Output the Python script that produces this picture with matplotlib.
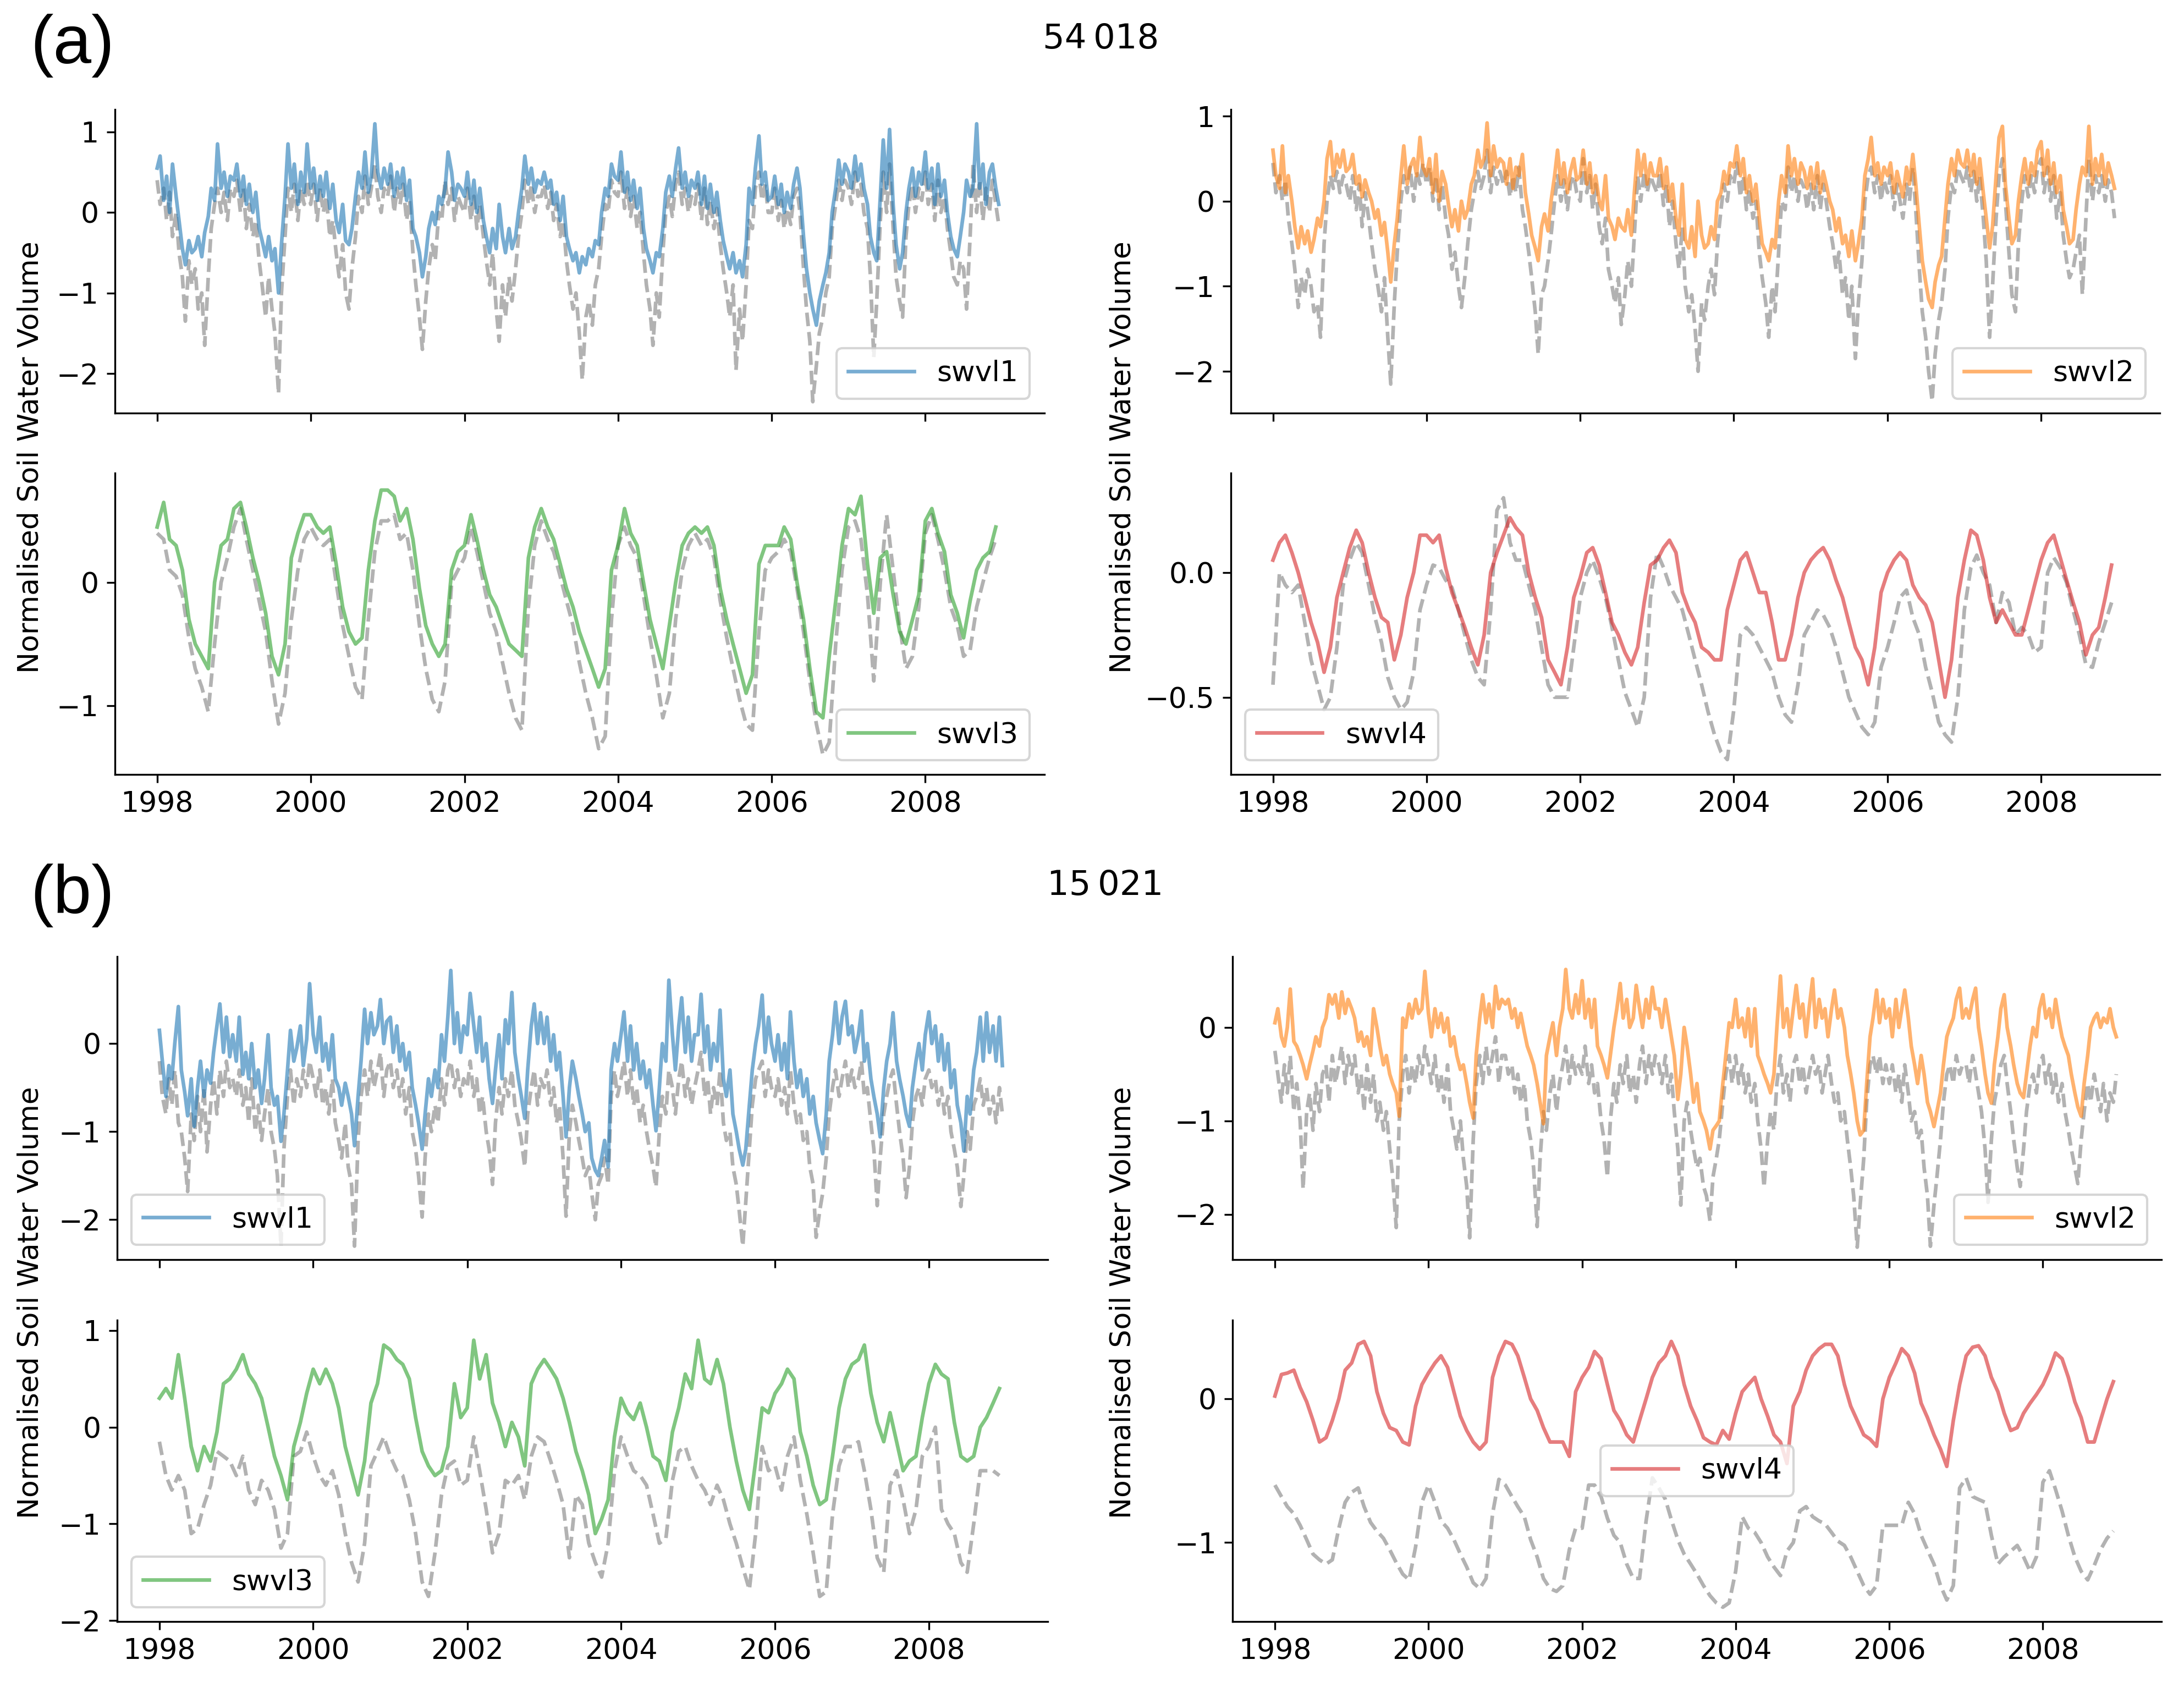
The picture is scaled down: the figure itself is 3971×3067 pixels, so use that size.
import numpy as np
import pandas as pd
import matplotlib
matplotlib.use('Agg')
import matplotlib.pyplot as plt
import matplotlib.dates as mdates
from matplotlib.ticker import MultipleLocator

plt.rcParams['font.family'] = ['DejaVu Sans']
plt.rcParams['font.size'] = 12.5

# ---- station 54018 : layer 1 and 2 (twice a month, 1998-2008) ----
a_swvl1 = [
    0.55, 0.7, 0.15, 0.45, 0.0, 0.6, 0.2, -0.1, -0.45, -0.65, -0.35, -0.5, -0.45, -0.3, -0.55, -0.25, -0.05, 0.3, 0.15, 0.85, 0.3, 0.5, 0.2, 0.45,
    0.4, 0.6, 0.2, 0.45, 0.1, 0.35, 0.0, 0.25, -0.2, -0.35, -0.55, -0.3, -0.6, -0.45, -1.0, -0.4, 0.2, 0.85, 0.3, 0.6, 0.1, 0.5, 0.25, 0.85,
    0.3, 0.55, 0.15, 0.45, 0.2, 0.5, 0.05, 0.35, -0.1, -0.25, 0.1, -0.35, -0.4, -0.2, 0.2, 0.5, 0.3, 0.75, 0.25, 0.45, 1.1, 0.5, 0.3, 0.55,
    0.35, 0.6, 0.2, 0.5, 0.3, 0.55, 0.15, 0.4, -0.2, -0.3, -0.5, -0.8, -0.55, -0.2, 0.0, -0.15, 0.2, 0.1, 0.3, 0.75, 0.5, 0.15, 0.35, 0.3,
    0.2, 0.5, 0.1, 0.4, 0.0, 0.3, -0.1, -0.3, -0.5, -0.2, -0.45, 0.1, -0.3, -0.5, -0.2, -0.45, -0.3, 0.0, 0.3, 0.7, 0.35, 0.55, 0.25, 0.4,
    0.35, 0.5, 0.3, 0.4, 0.1, 0.25, -0.1, 0.2, -0.3, -0.45, -0.6, -0.5, -0.75, -0.55, -0.65, -0.45, -0.55, -0.35, -0.4, 0.0, 0.3, 0.2, 0.6, 0.45,
    0.4, 0.75, 0.25, 0.5, 0.15, 0.4, 0.05, 0.3, -0.2, -0.45, -0.6, -0.75, -0.5, -0.55, -0.2, 0.25, 0.45, 0.2, 0.55, 0.8, 0.3, 0.5, 0.2, 0.4,
    0.3, 0.5, 0.1, 0.45, 0.05, 0.35, 0.0, 0.25, -0.1, -0.35, -0.55, -0.7, -0.5, -0.75, -0.6, -0.8, -0.4, 0.3, 0.1, 0.55, 0.95, 0.35, 0.5, 0.15,
    0.2, 0.45, 0.1, 0.35, 0.0, 0.25, 0.05, 0.35, 0.55, 0.3, -0.3, -0.7, -1.0, -1.2, -1.4, -1.1, -0.9, -0.75, -0.5, 0.0, 0.3, 0.65, 0.35, 0.6,
    0.5, 0.3, 0.7, 0.4, 0.6, 0.3, 0.1, -0.3, -0.5, -0.6, 0.2, 0.9, 0.3, 1.03, 0.1, -0.4, -0.7, -0.5, 0.0, 0.3, 0.55, 0.2, 0.5, 0.35,
    0.75, 0.3, 0.55, 0.1, 0.6, 0.2, 0.4, 0.0, -0.3, -0.45, -0.55, -0.3, 0.0, 0.4, 0.2, 0.3, 1.1, 0.3, 0.6, 0.1, 0.5, 0.6, 0.3, 0.1,
]
a_ref1 = [
    0.4, 0.1, 0.3, -0.1, 0.25, -0.3, 0.0, -0.5, -0.8, -1.35, -0.6, -0.9, -0.7, -1.2, -1.0, -1.65, -0.8, -0.2, 0.1, 0.3, 0.0, 0.25, -0.1, 0.3,
    0.2, 0.4, 0.0, 0.3, -0.2, 0.1, -0.3, -0.1, -0.6, -0.9, -1.3, -0.8, -1.2, -1.5, -2.25, -1.0, -0.3, 0.3, 0.0, 0.35, -0.1, 0.3, 0.1, 0.4,
    0.1, 0.35, -0.1, 0.3, 0.0, 0.2, -0.3, -0.1, -0.5, -0.8, -0.4, -1.0, -1.2, -0.7, -0.3, 0.2, 0.0, 0.45, 0.1, 0.3, 0.6, 0.2, 0.0, 0.3,
    0.2, 0.45, 0.0, 0.3, 0.1, 0.35, -0.1, 0.15, -0.5, -0.9, -1.3, -1.7, -1.1, -0.7, -0.4, -0.6, 0.0, -0.1, 0.4, 0.1, 0.3, -0.1, 0.2, 0.1,
    0.0, 0.3, -0.1, 0.2, -0.2, 0.1, -0.3, -0.6, -0.9, -0.5, -1.2, -1.6, -0.9, -1.3, -0.8, -1.1, -0.7, -0.3, 0.0, 0.4, 0.1, 0.35, 0.0, 0.2,
    0.2, 0.35, 0.05, 0.25, -0.1, 0.1, -0.3, -0.1, -0.6, -0.9, -1.2, -1.0, -1.5, -2.08, -1.3, -1.1, -1.4, -0.9, -0.7, -0.3, 0.1, 0.0, 0.4, 0.25,
    0.2, 0.5, 0.05, 0.3, -0.05, 0.2, -0.2, 0.0, -0.5, -0.9, -1.2, -1.65, -1.0, -1.3, -0.5, 0.0, 0.2, -0.05, 0.35, 0.5, 0.1, 0.3, 0.0, 0.2,
    0.1, 0.35, -0.1, 0.3, -0.15, 0.15, -0.2, 0.05, -0.4, -0.7, -1.0, -1.3, -0.9, -1.96, -1.2, -1.6, -0.9, -0.1, -0.2, 0.3, 0.5, 0.15, 0.35, 0.0,
    0.0, 0.3, -0.1, 0.15, -0.2, 0.05, -0.15, 0.2, 0.3, 0.0, -0.7, -1.2, -1.6, -2.35, -1.9, -1.5, -1.3, -1.0, -0.8, -0.2, 0.1, 0.4, 0.15, 0.4,
    0.3, 0.1, 0.5, 0.2, 0.35, 0.0, -0.2, -0.8, -1.8, -1.1, -0.1, 0.5, 0.0, 0.6, -0.2, -0.8, -1.1, -1.3, -0.3, 0.1, 0.35, 0.0, 0.3, 0.15,
    0.5, 0.1, 0.35, -0.1, 0.4, 0.0, 0.2, -0.2, -0.5, -0.8, -0.9, -0.6, -0.7, -1.2, -0.3, 0.6, 0.0, 0.4, -0.1, 0.3, 0.0, 0.4, 0.1, -0.15,
]
a_swvl2 = [
    0.6, 0.3, 0.15, 0.65, 0.1, 0.3, 0.0, -0.3, -0.55, -0.3, -0.5, -0.35, -0.6, -0.45, -0.2, -0.3, 0.0, 0.5, 0.7, 0.3, 0.55, 0.4, 0.6, 0.35,
    0.4, 0.55, 0.2, 0.3, 0.05, 0.25, 0.1, 0.0, -0.2, -0.1, -0.4, -0.25, -0.6, -0.95, -0.5, -0.2, 0.3, 0.65, 0.2, 0.4, 0.5, 0.3, 0.75, 0.4,
    0.3, 0.5, 0.1, 0.55, 0.0, 0.35, 0.2, -0.05, -0.3, -0.1, -0.35, 0.0, -0.2, -0.1, 0.2, 0.3, 0.6, 0.4, 0.5, 0.92, 0.3, 0.65, 0.4, 0.5,
    0.45, 0.2, 0.5, 0.15, 0.4, 0.3, 0.55, 0.1, -0.15, -0.4, -0.55, -0.7, -0.3, -0.15, -0.35, 0.0, 0.3, 0.6, 0.2, 0.45, 0.1, 0.35, 0.5, 0.25,
    0.3, 0.6, 0.2, 0.45, 0.1, 0.3, 0.0, -0.1, 0.3, -0.2, -0.3, -0.45, -0.2, -0.3, -0.35, -0.1, -0.4, 0.1, 0.6, 0.3, 0.55, 0.2, 0.45, 0.3,
    0.3, 0.5, 0.15, 0.4, 0.0, 0.2, -0.2, -0.4, 0.2, -0.45, -0.55, -0.3, -0.65, 0.0, -0.4, -0.55, -0.5, -0.3, -0.45, 0.0, 0.1, 0.35, 0.2, 0.45,
    0.4, 0.65, 0.3, 0.5, 0.1, 0.3, 0.0, 0.2, -0.2, -0.5, -0.6, -0.7, -0.45, -0.55, 0.0, 0.3, 0.1, 0.65, 0.3, 0.5, 0.2, 0.45, 0.35, 0.15,
    0.4, 0.15, 0.45, 0.1, 0.35, 0.2, 0.0, -0.1, -0.35, -0.2, -0.5, -0.4, -0.65, -0.35, -0.7, -0.5, -0.2, 0.3, 0.5, 0.75, 0.3, 0.45, 0.2, 0.4,
    0.3, 0.45, 0.1, 0.35, 0.2, 0.05, 0.4, 0.2, 0.55, 0.2, -0.3, -0.7, -0.95, -1.15, -1.25, -0.95, -0.75, -0.65, -0.2, 0.2, 0.5, 0.3, 0.6, 0.45,
    0.4, 0.6, 0.3, 0.55, 0.2, 0.5, 0.1, -0.2, -0.55, -0.3, 0.3, 0.75, 0.88, 0.2, -0.2, -0.5, -0.4, 0.0, 0.3, 0.5, 0.2, 0.45, 0.3, 0.6,
    0.7, 0.3, 0.6, 0.2, 0.45, 0.1, 0.3, -0.1, -0.3, -0.5, -0.45, -0.1, 0.2, 0.4, 0.3, 0.88, 0.2, 0.5, 0.3, 0.55, 0.2, 0.45, 0.3, 0.15,
]
a_ref2 = [
    0.45, 0.1, 0.3, 0.0, 0.25, -0.2, -0.5, -0.8, -1.25, -0.9, -1.1, -0.8, -1.0, -1.3, -1.2, -1.6, -0.5, 0.0, 0.3, 0.15, 0.35, 0.1, 0.3, 0.2,
    0.0, 0.3, -0.1, 0.2, -0.3, 0.1, -0.2, -0.5, -0.8, -1.0, -1.3, -0.9, -1.6, -2.15, -1.2, -0.6, 0.0, 0.3, 0.1, 0.4, 0.0, 0.35, 0.2, 0.45,
    0.2, 0.4, 0.0, 0.3, -0.1, 0.2, -0.2, -0.4, -0.8, -0.6, -1.0, -1.25, -0.9, -0.5, -0.1, 0.1, 0.35, 0.15, 0.3, 0.6, 0.1, 0.4, 0.2, 0.35,
    0.2, 0.35, 0.05, 0.3, 0.1, 0.4, -0.1, -0.3, -0.6, -0.9, -1.3, -1.8, -1.1, -1.0, -0.7, -0.4, 0.0, 0.3, 0.0, 0.25, -0.1, 0.2, 0.3, 0.1,
    0.0, 0.5, 0.1, 0.3, -0.1, 0.2, -0.3, -0.5, -0.2, -0.8, -1.0, -1.2, -0.9, -1.45, -1.1, -0.7, -1.0, -0.4, 0.3, 0.0, 0.35, 0.1, 0.3, 0.2,
    0.1, 0.35, -0.05, 0.2, -0.3, 0.0, -0.5, -0.8, -0.3, -1.0, -1.3, -1.1, -1.5, -2.0, -1.2, -1.4, -1.0, -0.8, -1.1, -0.5, -0.1, 0.2, 0.0, 0.3,
    0.2, 0.45, 0.05, 0.3, -0.1, 0.15, -0.2, 0.0, -0.6, -0.9, -1.2, -1.6, -1.0, -1.3, -0.6, 0.0, -0.1, 0.4, 0.1, 0.3, 0.0, 0.25, 0.15, -0.1,
    0.2, -0.1, 0.3, -0.1, 0.2, 0.0, -0.3, -0.5, -0.8, -0.6, -1.1, -0.9, -1.4, -1.0, -1.85, -1.2, -0.7, 0.0, 0.3, 0.4, 0.1, 0.3, 0.0, 0.25,
    0.1, 0.3, -0.1, 0.2, 0.0, -0.2, 0.2, 0.0, 0.4, -0.1, -0.8, -1.3, -1.6, -2.0, -2.35, -1.8, -1.4, -1.2, -0.8, -0.2, 0.2, 0.1, 0.4, 0.3,
    0.2, 0.4, 0.1, 0.35, 0.0, 0.3, -0.2, -0.7, -1.6, -1.0, -0.2, 0.3, 0.5, 0.0, -0.6, -1.1, -1.3, -0.5, 0.0, 0.3, 0.05, 0.3, 0.1, 0.4,
    0.5, 0.1, 0.4, 0.0, 0.3, -0.2, 0.1, -0.4, -0.7, -0.9, -0.8, -0.6, -0.4, -1.1, -0.2, 0.5, 0.0, 0.3, 0.1, 0.3, 0.0, 0.25, 0.1, -0.2,
]

# ---- station 54018 : layer 3 and 4 (monthly) ----
a_swvl3 = [
    0.45, 0.65, 0.35, 0.3, 0.1, -0.3, -0.5, -0.6, -0.7, 0.0, 0.3, 0.35,
    0.6, 0.65, 0.45, 0.2, 0.0, -0.25, -0.6, -0.75, -0.5, 0.2, 0.4, 0.55,
    0.55, 0.45, 0.4, 0.45, 0.15, -0.2, -0.4, -0.5, -0.45, 0.1, 0.5, 0.75,
    0.75, 0.7, 0.5, 0.6, 0.35, -0.05, -0.35, -0.5, -0.6, -0.5, 0.1, 0.25,
    0.3, 0.55, 0.35, 0.1, -0.1, -0.2, -0.35, -0.5, -0.55, -0.6, 0.2, 0.45,
    0.6, 0.45, 0.35, 0.15, -0.05, -0.2, -0.4, -0.55, -0.7, -0.85, -0.7, 0.1,
    0.3, 0.6, 0.4, 0.3, 0.0, -0.3, -0.5, -0.7, -0.35, 0.0, 0.3, 0.4,
    0.45, 0.4, 0.45, 0.3, -0.05, -0.3, -0.5, -0.7, -0.9, -0.75, 0.15, 0.3,
    0.3, 0.3, 0.45, 0.35, 0.0, -0.3, -0.7, -1.05, -1.1, -0.6, -0.15, 0.3,
    0.6, 0.55, 0.7, 0.15, -0.25, 0.2, 0.25, -0.1, -0.4, -0.5, -0.3, -0.1,
    0.5, 0.6, 0.4, 0.25, -0.1, -0.25, -0.45, -0.15, 0.1, 0.2, 0.25, 0.45,
]
a_ref3 = [
    0.4, 0.35, 0.1, 0.05, -0.1, -0.45, -0.7, -0.85, -1.05, -0.5, 0.0, 0.2,
    0.45, 0.6, 0.35, 0.1, -0.15, -0.4, -0.8, -1.15, -0.9, -0.3, 0.1, 0.35,
    0.45, 0.35, 0.3, 0.35, 0.0, -0.35, -0.6, -0.85, -0.95, -0.3, 0.25, 0.5,
    0.5, 0.55, 0.35, 0.4, 0.1, -0.35, -0.7, -0.95, -1.05, -0.8, 0.0, 0.1,
    0.2, 0.45, 0.25, 0.0, -0.25, -0.4, -0.65, -0.9, -1.1, -1.2, -0.2, 0.3,
    0.5, 0.35, 0.25, 0.05, -0.15, -0.35, -0.65, -0.9, -1.1, -1.35, -1.25, -0.3,
    0.3, 0.45, 0.3, 0.2, -0.1, -0.45, -0.75, -1.1, -0.9, -0.3, 0.1, 0.3,
    0.4, 0.3, 0.35, 0.2, -0.15, -0.45, -0.7, -0.95, -1.15, -1.2, -0.4, 0.1,
    0.2, 0.25, 0.35, 0.25, -0.05, -0.4, -0.8, -1.15, -1.4, -1.3, -0.5, 0.1,
    0.45, 0.5, 0.35, -0.1, -0.8, 0.0, 0.55, 0.1, -0.35, -0.7, -0.6, -0.2,
    0.4, 0.55, 0.35, 0.1, -0.2, -0.35, -0.6, -0.55, -0.2, 0.0, 0.2, 0.35,
]
a_swvl4 = [
    0.05, 0.12, 0.15, 0.08, 0.0, -0.1, -0.2, -0.28, -0.4, -0.3, -0.1, 0.0,
    0.1, 0.17, 0.12, 0.0, -0.1, -0.18, -0.2, -0.35, -0.25, -0.1, 0.0, 0.15,
    0.15, 0.12, 0.15, 0.02, -0.08, -0.15, -0.22, -0.3, -0.37, -0.25, 0.0, 0.08,
    0.15, 0.22, 0.18, 0.15, 0.0, -0.1, -0.18, -0.35, -0.4, -0.45, -0.3, -0.1,
    -0.02, 0.08, 0.1, 0.03, -0.08, -0.2, -0.25, -0.32, -0.37, -0.3, -0.12, 0.03,
    0.05, 0.1, 0.13, 0.08, -0.08, -0.15, -0.2, -0.3, -0.32, -0.35, -0.35, -0.15,
    -0.05, 0.05, 0.08, 0.0, -0.08, -0.08, -0.2, -0.35, -0.35, -0.25, -0.1, 0.0,
    0.05, 0.08, 0.1, 0.05, -0.03, -0.1, -0.2, -0.3, -0.35, -0.45, -0.3, -0.08,
    0.0, 0.05, 0.08, 0.05, -0.05, -0.1, -0.13, -0.2, -0.35, -0.5, -0.35, -0.1,
    0.05, 0.17, 0.15, 0.05, -0.1, -0.2, -0.15, -0.2, -0.25, -0.25, -0.15, -0.05,
    0.05, 0.12, 0.15, 0.06, -0.03, -0.12, -0.2, -0.33, -0.25, -0.22, -0.1, 0.03,
]
a_ref4 = [
    -0.45, 0.0, -0.05, -0.08, -0.05, -0.2, -0.35, -0.45, -0.55, -0.5, -0.3, -0.05,
    0.05, 0.12, 0.08, -0.05, -0.18, -0.28, -0.42, -0.5, -0.55, -0.52, -0.4, -0.15,
    -0.05, 0.03, 0.02, -0.03, -0.06, -0.15, -0.25, -0.35, -0.42, -0.45, -0.15, 0.25,
    0.3, 0.12, 0.05, 0.05, -0.05, -0.15, -0.3, -0.45, -0.5, -0.5, -0.5, -0.3,
    -0.1, 0.0, 0.05, -0.02, -0.1, -0.22, -0.35, -0.48, -0.55, -0.62, -0.5, -0.1,
    0.08, 0.02, -0.05, -0.1, -0.15, -0.25, -0.35, -0.45, -0.56, -0.65, -0.72, -0.75,
    -0.55, -0.25, -0.22, -0.25, -0.3, -0.35, -0.4, -0.5, -0.57, -0.6, -0.45, -0.25,
    -0.2, -0.15, -0.17, -0.22, -0.3, -0.4, -0.5, -0.56, -0.62, -0.65, -0.6, -0.38,
    -0.3, -0.2, -0.1, -0.07, -0.18, -0.25, -0.38, -0.48, -0.6, -0.65, -0.68, -0.5,
    -0.15, 0.02, 0.07, 0.0, -0.05, -0.2, -0.08, -0.12, -0.25, -0.22, -0.25, -0.32,
    -0.3, 0.0, 0.06, 0.02, -0.04, -0.15, -0.25, -0.37, -0.38, -0.28, -0.2, -0.12,
]

# ---- station 15021 : layer 1 and 2 (twice a month) ----
b_swvl1 = [
    0.15, -0.2, -0.6, -0.25, -0.4, 0.0, 0.42, -0.3, -0.55, -0.82, -0.4, -0.94, -0.5, -0.2, -0.6, -0.3, -0.45, -0.1, 0.2, 0.45, -0.1, 0.3, -0.15, 0.1,
    -0.2, 0.3, -0.35, -0.1, -0.4, 0.0, -0.5, -0.3, -0.68, -0.4, 0.1, -0.5, -0.7, -0.6, -1.11, -0.8, -0.3, 0.15, -0.2, -0.05, 0.2, -0.25, 0.05, 0.68,
    0.1, -0.1, 0.3, -0.2, 0.0, -0.3, 0.1, -0.4, -0.5, -0.7, -0.45, -0.6, -0.8, -1.16, -0.6, -0.2, 0.39, 0.0, 0.35, 0.1, 0.2, 0.5, 0.0, 0.25,
    0.3, -0.1, 0.2, -0.2, 0.0, -0.3, -0.1, -0.5, -0.7, -0.9, -1.2, -0.8, -0.4, -0.6, -0.3, -0.5, 0.1, -0.2, 0.3, 0.83, 0.0, 0.35, -0.1, 0.2,
    0.1, 0.57, 0.2, -0.1, 0.3, -0.2, 0.0, -0.4, -0.68, -0.3, 0.1, -0.4, 0.27, 0.0, 0.58, -0.1, -0.4, -0.6, -0.85, -0.3, 0.2, 0.45, 0.0, 0.35,
    0.0, 0.3, -0.2, 0.1, -0.3, -0.1, -0.6, -1.06, -0.5, -0.2, -0.4, -0.6, -0.8, -1.0, -0.9, -1.3, -1.44, -1.5, -1.3, -1.1, -1.4, -0.3, 0.0, -0.2,
    0.1, 0.36, -0.2, 0.2, -0.3, 0.0, -0.4, -0.2, -0.5, -0.3, -0.7, -0.99, -0.5, 0.0, -0.2, 0.72, 0.1, -0.3, 0.2, 0.52, -0.1, 0.3, -0.2, 0.1,
    0.1, 0.56, -0.1, 0.2, -0.3, 0.0, -0.2, 0.38, -0.4, -0.6, -0.3, -0.8, -1.0, -1.2, -1.38, -1.2, -0.7, -0.3, 0.0, 0.2, 0.55, -0.1, 0.3, 0.0,
    -0.2, 0.1, -0.3, 0.0, -0.4, 0.36, -0.2, -0.5, -0.3, -0.6, -0.4, -0.8, -0.6, -0.9, -1.1, -1.25, -0.8, -0.2, 0.1, 0.47, 0.0, 0.3, 0.48, 0.1,
    0.2, -0.1, 0.1, 0.37, -0.2, 0.0, -0.4, -0.6, -0.8, -1.06, -0.5, -0.2, 0.0, 0.35, -0.2, -0.4, -0.6, -0.8, -0.94, -0.5, -0.2, 0.0, -0.3, 0.1,
    0.36, 0.0, 0.2, -0.2, 0.1, -0.3, 0.0, -0.5, -0.3, -0.7, -0.9, -1.22, -0.6, -0.8, -0.3, -0.1, 0.3, -0.2, 0.35, -0.1, 0.2, -0.2, 0.3, -0.25,
]
b_ref1 = [
    -0.2, -0.6, -0.8, -0.4, -0.7, -0.3, -0.9, -1.0, -1.3, -1.68, -0.8, -1.1, -0.6, -1.0, -0.5, -1.23, -0.7, -0.4, -0.8, -0.3, -0.6, -0.2, -0.5, -0.4,
    -0.6, -0.3, -0.7, -0.5, -0.9, -0.4, -1.0, -0.7, -1.1, -0.8, -0.5, -1.0, -1.2, -1.5, -2.3, -1.2, -0.6, -0.3, -0.7, -0.4, -0.6, -0.3, -0.5, -0.2,
    -0.4, -0.6, -0.3, -0.7, -0.5, -0.8, -0.4, -0.9, -1.1, -1.3, -0.9, -1.4, -1.6, -2.3, -1.1, -0.6, -0.3, -0.6, -0.2, -0.5, -0.3, -0.1, -0.6, -0.3,
    -0.2, -0.5, -0.3, -0.6, -0.4, -0.8, -0.5, -1.0, -1.2, -1.5, -1.97, -1.3, -0.8, -1.0, -0.7, -0.9, -0.4, -0.7, -0.3, -0.2, -0.5, -0.3, -0.6, -0.4,
    -0.5, -0.2, -0.6, -0.4, -0.8, -0.6, -1.0, -1.2, -1.6, -0.9, -0.5, -0.8, -0.4, -0.6, -0.3, -0.7, -0.9, -1.1, -1.4, -0.8, -0.5, -0.3, -0.7, -0.4,
    -0.5, -0.3, -0.7, -0.5, -0.9, -0.7, -1.3, -1.96, -1.0, -0.7, -0.9, -1.1, -1.3, -1.5, -1.4, -1.7, -2.0, -1.6, -1.5, -1.3, -1.6, -0.6, -0.3, -0.6,
    -0.4, -0.2, -0.6, -0.3, -0.7, -0.5, -0.9, -0.7, -1.0, -1.2, -1.4, -1.63, -1.0, -0.6, -0.8, -0.3, -0.5, -0.8, -0.4, -0.2, -0.6, -0.4, -0.7, -0.5,
    -0.3, -0.1, -0.6, -0.4, -0.8, -0.5, -0.7, -0.3, -0.9, -1.1, -1.0, -1.4, -1.6, -1.9, -2.3, -1.8, -1.2, -0.7, -0.4, -0.3, -0.2, -0.6, -0.3, -0.5,
    -0.6, -0.4, -0.7, -0.5, -0.8, -0.3, -0.7, -0.9, -0.8, -1.1, -1.0, -1.4, -1.6, -2.2, -1.9, -1.7, -1.3, -0.8, -0.5, -0.3, -0.6, -0.4, -0.2, -0.5,
    -0.3, -0.5, -0.4, -0.2, -0.6, -0.5, -0.9, -1.2, -1.84, -1.3, -0.8, -0.6, -0.4, -0.3, -0.7, -1.0, -1.3, -1.75, -1.4, -0.9, -0.6, -0.5, -0.7, -0.4,
    -0.3, -0.5, -0.4, -0.7, -0.5, -0.8, -0.6, -1.0, -1.2, -1.4, -1.85, -1.5, -1.0, -1.2, -0.7, -0.6, -0.4, -0.7, -0.5, -0.8, -0.6, -0.9, -0.5, -0.8,
]
b_swvl2 = [
    0.05, 0.2, -0.1, -0.2, 0.0, 0.41, -0.15, -0.2, -0.3, -0.4, -0.55, -0.4, -0.25, -0.1, -0.2, 0.0, 0.1, 0.35, 0.25, 0.35, 0.1, 0.38, 0.15, 0.3,
    0.2, 0.1, -0.15, -0.05, -0.2, -0.1, -0.3, 0.2, 0.0, -0.2, -0.4, -0.3, -0.5, -0.6, -0.7, -0.95, 0.1, 0.0, 0.25, 0.1, 0.3, 0.15, 0.2, 0.6,
    0.15, -0.1, 0.2, 0.0, 0.15, -0.05, 0.1, -0.2, -0.1, -0.3, -0.45, -0.4, -0.6, -0.8, -0.97, -0.3, 0.1, 0.35, 0.05, 0.25, 0.0, 0.44, 0.2, 0.3,
    0.25, 0.3, 0.1, 0.2, 0.0, 0.15, -0.05, -0.2, -0.3, -0.4, -0.6, -0.8, -1.03, -0.3, -0.1, 0.05, -0.3, 0.0, 0.2, 0.62, 0.2, 0.1, 0.35, 0.15,
    0.5, 0.1, 0.3, 0.0, 0.3, -0.2, -0.3, -0.4, -0.54, -0.3, 0.0, 0.2, 0.47, 0.1, 0.3, 0.0, 0.1, 0.45, 0.2, 0.0, 0.3, 0.1, 0.43, 0.2,
    0.2, 0.0, 0.3, 0.1, -0.1, -0.3, -0.77, -0.5, 0.0, -0.2, -0.5, -0.8, -0.6, -0.9, -1.0, -1.1, -1.3, -1.1, -1.05, -1.0, -0.6, -0.3, 0.05, 0.0,
    0.3, 0.0, 0.1, -0.1, 0.2, -0.2, 0.2, -0.3, -0.4, -0.5, -0.6, -0.7, -0.5, 0.0, 0.55, 0.0, 0.2, -0.1, 0.2, 0.45, 0.1, 0.25, -0.1, 0.2,
    0.52, 0.0, 0.3, 0.1, 0.2, -0.1, 0.2, 0.4, 0.1, 0.2, 0.0, -0.3, -0.5, -0.7, -1.0, -1.15, -1.1, -0.6, -0.1, 0.1, 0.4, 0.05, 0.3, 0.1,
    0.2, -0.1, 0.3, 0.0, 0.2, 0.4, 0.1, -0.2, -0.4, -0.6, -0.3, -0.5, -0.8, -0.9, -1.06, -0.9, -0.7, -0.4, -0.1, 0.0, 0.1, 0.3, 0.42, 0.1,
    0.2, 0.1, 0.3, 0.42, 0.0, -0.2, -0.5, -0.7, -0.81, -0.4, -0.1, 0.2, 0.35, 0.0, -0.2, -0.4, -0.6, -0.7, -0.75, -0.5, -0.2, 0.0, -0.1, 0.2,
    0.35, 0.1, 0.2, 0.0, 0.3, 0.1, -0.1, -0.2, -0.3, -0.5, -0.7, -0.85, -0.95, -0.6, -0.3, 0.0, 0.1, 0.15, 0.0, 0.1, 0.05, 0.2, 0.0, -0.1,
]
b_ref2 = [
    -0.25, -0.5, -0.8, -0.4, -0.7, -0.3, -0.9, -0.6, -1.0, -1.73, -0.9, -0.7, -1.1, -0.6, -0.9, -0.5, -0.4, -0.8, -0.3, -0.6, -0.4, -0.2, -0.6, -0.3,
    -0.5, -0.3, -0.7, -0.5, -0.9, -0.4, -0.8, -0.5, -1.0, -0.8, -1.1, -0.9, -1.3, -1.6, -2.14, -1.0, -0.5, -0.3, -0.7, -0.4, -0.6, -0.3, -0.5, -0.2,
    -0.4, -0.6, -0.3, -0.7, -0.5, -0.8, -0.4, -0.9, -1.1, -1.3, -1.0, -1.4, -1.7, -2.25, -1.2, -0.6, -0.3, -0.6, -0.2, -0.5, -0.3, -0.1, -0.6, -0.3,
    -0.3, -0.5, -0.4, -0.7, -0.5, -0.8, -0.6, -1.0, -1.2, -1.5, -2.13, -1.4, -0.9, -1.1, -0.7, -0.5, -0.9, -0.6, -0.4, -0.2, -0.6, -0.3, -0.5, -0.4,
    -0.5, -0.2, -0.6, -0.4, -0.7, -0.6, -1.0, -1.2, -1.6, -1.0, -0.6, -0.8, -0.4, -0.6, -0.3, -0.7, -0.5, -0.8, -0.4, -0.2, -0.6, -0.3, -0.5, -0.3,
    -0.4, -0.6, -0.3, -0.7, -0.5, -0.9, -1.3, -1.9, -1.0, -0.8, -1.1, -1.3, -1.5, -1.4, -1.7, -1.8, -2.07, -1.6, -1.4, -1.2, -0.8, -0.5, -0.3, -0.6,
    -0.3, -0.6, -0.4, -0.7, -0.5, -0.8, -0.6, -1.0, -1.3, -1.71, -1.2, -0.9, -1.1, -0.6, -0.3, -0.7, -0.5, -0.8, -0.4, -0.3, -0.6, -0.4, -0.7, -0.5,
    -0.3, -0.5, -0.4, -0.7, -0.5, -0.3, -0.6, -0.8, -0.7, -1.0, -0.9, -1.2, -1.5, -1.8, -2.35, -1.9, -1.4, -0.8, -0.4, -0.3, -0.5, -0.3, -0.6, -0.4,
    -0.6, -0.4, -0.7, -0.5, -0.8, -0.4, -0.7, -1.0, -0.9, -1.2, -1.1, -1.5, -1.8, -2.34, -1.9, -1.6, -1.2, -0.8, -0.5, -0.4, -0.6, -0.3, -0.5, -0.4,
    -0.4, -0.6, -0.3, -0.5, -0.7, -0.9, -1.3, -1.87, -1.2, -0.8, -0.6, -0.4, -0.3, -0.6, -0.9, -1.2, -1.5, -1.7, -1.3, -0.9, -0.6, -0.5, -0.7, -0.4,
    -0.3, -0.6, -0.4, -0.7, -0.5, -0.8, -0.6, -0.9, -1.1, -1.3, -1.5, -1.67, -1.2, -0.9, -0.6, -0.8, -0.5, -0.7, -0.9, -0.6, -1.0, -0.7, -0.8, -0.5,
]

# ---- station 15021 : layer 3 and 4 (monthly) ----
b_swvl3 = [
    0.3, 0.4, 0.3, 0.75, 0.3, -0.2, -0.45, -0.2, -0.35, -0.05, 0.45, 0.5,
    0.6, 0.75, 0.55, 0.45, 0.3, 0.0, -0.3, -0.5, -0.75, -0.2, 0.05, 0.35,
    0.6, 0.45, 0.6, 0.45, 0.2, -0.2, -0.45, -0.7, -0.35, 0.25, 0.45, 0.85,
    0.8, 0.7, 0.65, 0.5, 0.1, -0.25, -0.4, -0.5, -0.45, -0.2, 0.45, 0.1,
    0.2, 0.9, 0.5, 0.75, 0.25, 0.05, -0.2, 0.05, -0.1, -0.4, 0.45, 0.6,
    0.7, 0.6, 0.5, 0.3, 0.05, -0.25, -0.45, -0.7, -1.1, -0.95, -0.75, -0.1,
    0.3, 0.15, 0.08, 0.25, 0.0, -0.3, -0.35, -0.55, -0.05, 0.2, 0.55, 0.4,
    0.9, 0.5, 0.45, 0.7, 0.45, 0.0, -0.35, -0.65, -0.85, -0.35, 0.2, 0.15,
    0.35, 0.45, 0.6, 0.5, -0.05, -0.3, -0.6, -0.8, -0.75, -0.3, 0.2, 0.5,
    0.65, 0.7, 0.85, 0.35, 0.05, -0.15, 0.15, -0.15, -0.45, -0.35, -0.3, 0.1,
    0.45, 0.65, 0.55, 0.5, 0.05, -0.3, -0.35, -0.3, 0.0, 0.1, 0.25, 0.4,
]
b_ref3 = [
    -0.15, -0.5, -0.65, -0.5, -0.65, -1.1, -1.05, -0.8, -0.6, -0.25, -0.3, -0.35,
    -0.5, -0.3, -0.65, -0.8, -0.55, -0.65, -0.85, -1.25, -1.1, -0.3, -0.25, -0.05,
    -0.3, -0.5, -0.6, -0.45, -0.7, -1.1, -1.4, -1.6, -1.2, -0.4, -0.25, -0.1,
    -0.3, -0.45, -0.5, -0.75, -1.1, -1.6, -1.75, -1.3, -0.7, -0.4, -0.35, -0.6,
    -0.55, -0.1, -0.45, -0.85, -1.3, -1.1, -0.55, -0.6, -0.5, -0.75, -0.3, -0.1,
    -0.15, -0.35, -0.55, -0.8, -1.35, -0.7, -0.8, -1.2, -1.4, -1.55, -1.2, -0.45,
    -0.1, -0.3, -0.45, -0.5, -0.6, -0.9, -1.2, -1.15, -0.55, -0.25, -0.2, -0.4,
    -0.55, -0.65, -0.8, -0.6, -0.75, -1.0, -1.2, -1.45, -1.68, -1.1, -0.2, -0.45,
    -0.4, -0.65, -0.3, -0.1, -0.55, -0.9, -1.3, -1.75, -1.7, -0.9, -0.4, -0.2,
    -0.2, -0.15, -0.45, -0.85, -1.35, -1.5, -0.6, -0.45, -0.75, -1.1, -0.85, -0.3,
    -0.2, 0.0, -0.85, -1.0, -1.1, -1.4, -1.5, -1.0, -0.45, -0.45, -0.45, -0.5,
]
b_swvl4 = [
    0.02, 0.17, 0.18, 0.2, 0.08, -0.02, -0.15, -0.3, -0.27, -0.15, 0.0, 0.2,
    0.25, 0.38, 0.4, 0.3, 0.05, -0.1, -0.2, -0.22, -0.3, -0.32, -0.05, 0.1,
    0.18, 0.25, 0.3, 0.22, 0.05, -0.12, -0.22, -0.3, -0.35, -0.3, 0.15, 0.3,
    0.4, 0.38, 0.3, 0.15, 0.0, -0.08, -0.2, -0.3, -0.3, -0.3, -0.4, 0.05,
    0.15, 0.22, 0.33, 0.28, 0.1, -0.08, -0.15, -0.25, -0.3, -0.15, 0.0, 0.15,
    0.25, 0.3, 0.4, 0.3, 0.1, -0.05, -0.15, -0.27, -0.3, -0.32, -0.22, -0.28,
    -0.1, 0.05, 0.1, 0.15, 0.0, -0.12, -0.25, -0.3, -0.45, -0.05, 0.05, 0.2,
    0.3, 0.35, 0.38, 0.38, 0.3, 0.1, -0.05, -0.15, -0.25, -0.28, -0.33, 0.0,
    0.15, 0.25, 0.35, 0.3, 0.18, -0.03, -0.13, -0.25, -0.35, -0.47, -0.15, 0.1,
    0.3, 0.36, 0.37, 0.3, 0.15, 0.05, -0.1, -0.22, -0.2, -0.1, -0.03, 0.03,
    0.1, 0.2, 0.32, 0.28, 0.15, -0.02, -0.13, -0.3, -0.3, -0.15, 0.0, 0.12,
]
b_ref4 = [
    -0.6, -0.68, -0.75, -0.8, -0.88, -0.98, -1.08, -1.12, -1.15, -1.12, -0.9, -0.72,
    -0.65, -0.62, -0.75, -0.86, -0.92, -0.97, -1.05, -1.14, -1.22, -1.26, -1.03, -0.72,
    -0.6, -0.72, -0.85, -0.9, -0.98, -1.08, -1.17, -1.28, -1.32, -1.25, -0.8, -0.56,
    -0.6, -0.68, -0.75, -0.82, -0.98, -1.1, -1.25, -1.32, -1.34, -1.3, -1.05, -0.9,
    -0.9, -0.6, -0.6, -0.68, -0.83, -0.95, -1.0, -1.15, -1.25, -1.25, -0.85, -0.55,
    -0.62, -0.7, -0.84, -0.98, -1.08, -1.15, -1.22, -1.3, -1.37, -1.42, -1.45, -1.42,
    -1.2, -0.82, -0.9, -0.93, -1.0, -1.1, -1.17, -1.23, -1.06, -1.0, -0.78, -0.75,
    -0.82, -0.85, -0.87, -0.93, -0.99, -1.02, -1.1, -1.2, -1.3, -1.36, -1.3, -0.88,
    -0.88, -0.88, -0.88, -0.72, -0.8, -0.95, -1.05, -1.15, -1.3, -1.4, -1.3, -0.62,
    -0.55, -0.68, -0.7, -0.72, -0.95, -1.15, -1.1, -1.06, -1.02, -1.1, -1.2, -1.1,
    -0.58, -0.5, -0.63, -0.78, -0.95, -1.1, -1.2, -1.26, -1.16, -1.05, -0.97, -0.92,
]

half_month = pd.date_range('1998-01-01', periods=len(a_swvl1), freq='SMS')
month = pd.date_range('1998-01-01', periods=len(a_swvl3), freq='MS')

# figure layout (fractions of the figure)
col_a = [(0.0526, 0.4255), (0.5635, 0.4255)]
col_b = [(0.0536, 0.4262), (0.5644, 0.4254)]
rows = {'a_top': (0.7552, 0.1800), 'a_bot': (0.5409, 0.1788),
        'b_top': (0.2535, 0.1796), 'b_bot': (0.0388, 0.1788)}

panels = [
    # column, row, model, reference, dates, color, label, legend loc, ylim, tick step, top row
    (col_a[0], rows['a_top'], a_swvl1, a_ref1, half_month, 'tab:blue', 'swvl1', 'lower right', (-2.49, 1.28), 1, True),
    (col_a[1], rows['a_top'], a_swvl2, a_ref2, half_month, 'tab:orange', 'swvl2', 'lower right', (-2.49, 1.08), 1, True),
    (col_a[0], rows['a_bot'], a_swvl3, a_ref3, month, 'tab:green', 'swvl3', 'lower right', (-1.56, 0.89), 1, False),
    (col_a[1], rows['a_bot'], a_swvl4, a_ref4, month, 'tab:red', 'swvl4', 'lower left', (-0.81, 0.40), 0.5, False),
    (col_b[0], rows['b_top'], b_swvl1, b_ref1, half_month, 'tab:blue', 'swvl1', 'lower left', (-2.45, 0.99), 1, True),
    (col_b[1], rows['b_top'], b_swvl2, b_ref2, half_month, 'tab:orange', 'swvl2', 'lower right', (-2.48, 0.76), 1, True),
    (col_b[0], rows['b_bot'], b_swvl3, b_ref3, month, 'tab:green', 'swvl3', 'lower left', (-2.01, 1.11), 1, False),
    (col_b[1], rows['b_bot'], b_swvl4, b_ref4, month, 'tab:red', 'swvl4', 'center', (-1.55, 0.55), 1, False),
]

fig = plt.figure(figsize=(3971 / 300, 3067 / 300), dpi=300)

for (x0, w), (y0, h), model, ref, dates, color, label, loc, ylim, step, top in panels:
    ax = fig.add_axes([x0, y0, w, h])
    ax.plot(dates, ref, '--', color='grey', alpha=0.6, lw=1.6)
    ax.plot(dates, model, '-', color=color, alpha=0.6, lw=1.6, label=label)
    ax.set_xlim(pd.Timestamp('1997-06-14'), pd.Timestamp('2009-07-19'))
    ax.set_ylim(*ylim)
    ax.yaxis.set_major_locator(MultipleLocator(step))
    ax.xaxis.set_major_locator(mdates.YearLocator(2))
    ax.xaxis.set_major_formatter(mdates.DateFormatter('%Y'))
    ax.spines['top'].set_visible(False)
    ax.spines['right'].set_visible(False)
    if top:
        ax.tick_params(labelbottom=False)
    ax.legend(loc=loc, handlelength=2.3)

# shared y labels
for x in (0.014, 0.514):
    fig.text(x, 0.729, 'Normalised Soil Water Volume', rotation=90, ha='center', va='center')
    fig.text(x, 0.228, 'Normalised Soil Water Volume', rotation=90, ha='center', va='center')

# panel letters and station titles
fig.text(0.014, 0.992, '(a)', fontsize=30, family=['Liberation Sans', 'DejaVu Sans'], va='top')
fig.text(0.014, 0.488, '(b)', fontsize=30, family=['Liberation Sans', 'DejaVu Sans'], va='top')
fig.text(0.504, 0.977, '54\u2009018', fontsize=15, ha='center', va='center')
fig.text(0.506, 0.475, '15\u2009021', fontsize=15, ha='center', va='center')

fig.savefig('out.png', dpi=300)
